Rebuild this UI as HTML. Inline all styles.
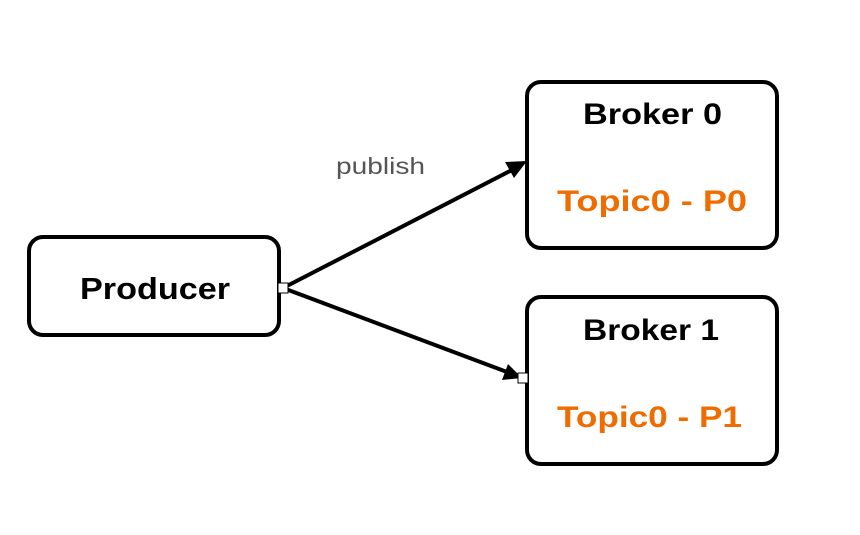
<!DOCTYPE html>
<html><head><style>
body{margin:0;background:#fff;}
</style></head><body>
<svg width="860" height="530" xmlns="http://www.w3.org/2000/svg" font-family="Liberation Sans, sans-serif">
<rect width="860" height="530" fill="#fff"/>
<rect x="29" y="237" width="250" height="98" rx="14" fill="#fff" stroke="#000" stroke-width="4"/>
<rect x="527" y="82" width="250" height="166" rx="14" fill="#fff" stroke="#000" stroke-width="4"/>
<rect x="527" y="297" width="250" height="167" rx="14" fill="#fff" stroke="#000" stroke-width="4"/>
<text x="80" y="299" font-size="31" font-weight="bold" textLength="150" lengthAdjust="spacingAndGlyphs">Producer</text>
<text x="583" y="124" font-size="30" font-weight="bold" textLength="139" lengthAdjust="spacingAndGlyphs">Broker 0</text>
<text x="557" y="211" font-size="30" font-weight="bold" fill="#ef6c00" textLength="190" lengthAdjust="spacingAndGlyphs">Topic0 - P0</text>
<text x="583" y="340" font-size="30" font-weight="bold" textLength="136" lengthAdjust="spacingAndGlyphs">Broker 1</text>
<text x="557" y="427" font-size="30" font-weight="bold" fill="#ef6c00" textLength="185" lengthAdjust="spacingAndGlyphs">Topic0 - P1</text>
<text x="336" y="174" font-size="23" fill="#555" textLength="89" lengthAdjust="spacingAndGlyphs">publish</text>
<line x1="283" y1="288" x2="512" y2="170" stroke="#000" stroke-width="4"/>
<polygon points="527,161 505,162 514,178" fill="#000"/>
<line x1="283" y1="288" x2="507" y2="372" stroke="#000" stroke-width="4"/>
<polygon points="522,378 502,380 508,364" fill="#000"/>
<rect x="278" y="283" width="10" height="10" fill="#fff" stroke="#000" stroke-width="1"/>
<rect x="518" y="373" width="10" height="10" fill="#fff" stroke="#000" stroke-width="1"/>
</svg>
</body></html>
